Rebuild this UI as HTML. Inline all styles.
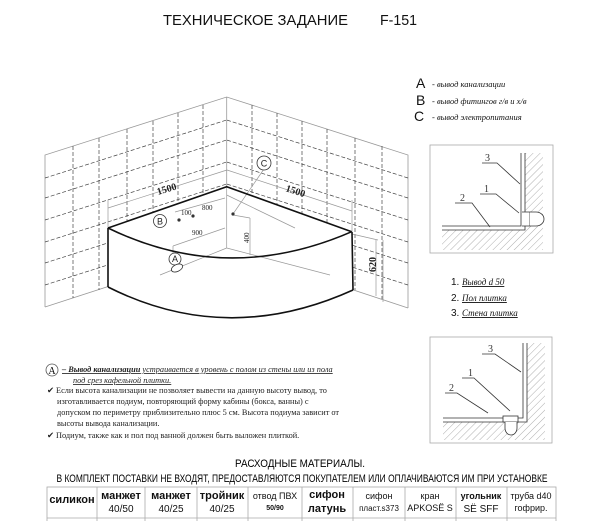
<!DOCTYPE html>
<html><head><meta charset="utf-8"><style>
html,body{margin:0;padding:0;background:#fff;}
svg{display:block;}
</style></head><body>
<svg width="600" height="521" viewBox="0 0 600 521" xmlns="http://www.w3.org/2000/svg" font-family="Liberation Sans, sans-serif">
<!-- title -->
<text x="163" y="25" font-size="15" textLength="185" lengthAdjust="spacingAndGlyphs" fill="#111">ТЕХНИЧЕСКОЕ ЗАДАНИЕ</text>
<text x="380" y="25" font-size="15" textLength="37" lengthAdjust="spacingAndGlyphs" fill="#111">F-151</text>

<!-- walls -->
<g stroke="#999" stroke-width="0.8" fill="none">
<polyline points="45,307 45,155 226.7,97 408,155 408,308"/>
<line x1="226.7" y1="97" x2="226.7" y2="248"/>
<line x1="45" y1="307" x2="226.7" y2="248"/>
<line x1="226.7" y1="248" x2="408" y2="308"/>
</g>
<g stroke="#444" stroke-width="0.7" stroke-dasharray="4,2" fill="none">
<line x1="45" y1="178" x2="226.7" y2="120"/>
<line x1="45" y1="198" x2="226.7" y2="140"/>
<line x1="45" y1="220" x2="226.7" y2="162"/>
<line x1="45" y1="242" x2="226.7" y2="184"/>
<line x1="45" y1="263" x2="226.7" y2="205"/>
<line x1="45" y1="285" x2="226.7" y2="227"/>
<line x1="408" y1="178" x2="226.7" y2="120"/>
<line x1="408" y1="198" x2="226.7" y2="140"/>
<line x1="408" y1="220" x2="226.7" y2="162"/>
<line x1="408" y1="242" x2="226.7" y2="184"/>
<line x1="408" y1="263" x2="226.7" y2="205"/>
<line x1="408" y1="285" x2="226.7" y2="227"/>
<line x1="73" y1="146" x2="73" y2="298"/>
<line x1="99" y1="138" x2="99" y2="290"/>
<line x1="127" y1="129" x2="127" y2="280"/>
<line x1="153" y1="121" x2="153" y2="272"/>
<line x1="178" y1="113" x2="178" y2="264"/>
<line x1="203" y1="105" x2="203" y2="256"/>
<line x1="252" y1="105" x2="252" y2="256"/>
<line x1="277" y1="113" x2="277" y2="264"/>
<line x1="302" y1="121" x2="302" y2="273"/>
<line x1="327" y1="129" x2="327" y2="281"/>
<line x1="355" y1="138" x2="355" y2="290"/>
<line x1="382" y1="146" x2="382" y2="299"/>
</g>
<!-- tub -->
<path d="M108,228 L226.7,186.7 L351.7,231.7 L353,290 Q227,347 108,287 Z" fill="#fff" stroke="none"/>
<g stroke="#999" stroke-width="0.7" fill="none">
<line x1="108" y1="208" x2="227" y2="170"/>
<line x1="108" y1="200" x2="108" y2="228"/>
<line x1="227" y1="170" x2="352" y2="211"/>
<line x1="352" y1="200" x2="352" y2="232"/>
<line x1="226.7" y1="186.7" x2="226.7" y2="248"/>
<line x1="226.7" y1="195" x2="295" y2="228"/>
<line x1="175" y1="212" x2="225" y2="198"/>
<line x1="173" y1="246" x2="225" y2="228"/>
<line x1="173" y1="246" x2="173" y2="256"/>
<line x1="233" y1="215" x2="250" y2="218"/>
<line x1="250" y1="218" x2="250" y2="255"/>
<line x1="264" y1="169" x2="233" y2="214"/>
<line x1="226.7" y1="248" x2="160" y2="275"/>
<line x1="226.7" y1="248" x2="330" y2="275"/>
<line x1="352" y1="234" x2="378" y2="240"/>
<line x1="376" y1="240" x2="376" y2="296"/>
<line x1="383" y1="240" x2="383" y2="302"/>
</g>
<g stroke="#111" stroke-width="1.6" fill="none">
<polyline points="108,228 226.7,186.7 351.7,231.7"/>
<path d="M108,228 Q227,286 351.7,231.7"/>
<line x1="108" y1="228" x2="108" y2="287"/>
<line x1="352" y1="232" x2="353" y2="290"/>
<path d="M108,287 Q227,347 353,290"/>
</g>
<g fill="#333"><circle cx="179" cy="220" r="1.6"/><circle cx="193" cy="216" r="1.6"/><circle cx="233" cy="214" r="1.6"/></g>
<g font-family="Liberation Serif, serif" fill="#222">
<text x="0" y="0" font-size="10" font-weight="bold" transform="translate(158,195) rotate(-17)">1500</text>
<text x="0" y="0" font-size="10" font-weight="bold" transform="translate(285,191) rotate(18)">1500</text>
<text x="181" y="215" font-size="7">100</text>
<text x="202" y="210" font-size="7">800</text>
<text x="192" y="235" font-size="7">900</text>
<text x="0" y="0" font-size="7" transform="translate(249,243) rotate(-90)">400</text>
<text x="0" y="0" font-size="10" font-weight="bold" transform="translate(376,272) rotate(-90)">620</text>
</g>
<g stroke="#333" stroke-width="0.8" fill="#fff">
<circle cx="160" cy="221" r="6.5"/><circle cx="264" cy="163" r="7"/><circle cx="175" cy="259" r="6"/>
<ellipse cx="177" cy="268" rx="6" ry="3.5" transform="rotate(-25 177 268)"/>
</g>
<g font-size="9" fill="#222" text-anchor="middle"><text x="160" y="224.5">B</text><text x="264" y="166.5">C</text><text x="175" y="262">A</text></g>

<!-- legend -->
<g fill="#111">
<text x="416" y="88" font-size="14">A</text><text x="416" y="105" font-size="14">B</text><text x="414" y="121" font-size="14">C</text>
<g font-family="Liberation Serif, serif" font-style="italic" font-size="8.5">
<text x="432" y="87">- вывод канализации</text>
<text x="432" y="104">- вывод фитингов г/в и х/в</text>
<text x="432" y="120">- вывод электропитания</text>
</g></g>

<!-- panel 1 -->
<rect x="430" y="145" width="123" height="108" fill="none" stroke="#aaa" stroke-width="0.8"/>
<defs><pattern id="h" width="5" height="5" patternUnits="userSpaceOnUse" patternTransform="rotate(45)"><line x1="0" y1="0" x2="0" y2="5" stroke="#777" stroke-width="0.6"/></pattern></defs>
<path d="M525,153 L543,153 L543,250 L442,250 L442,230 L525,230 Z" fill="url(#h)"/>
<g stroke="#333" fill="none" stroke-width="0.8">
<path d="M521,153 L521,226 L442,226 M525,153 L525,230 L442,230"/>
<path d="M522,212 h8 v14 h-8" fill="#fff"/>
<path d="M530,212 h6 a8,7 0 0 1 0,14 h-6" fill="#fff"/>
<polyline points="482,163 497,163 520,184"/>
<polyline points="480,194 496,194 519,213"/>
<polyline points="455,203 472,203 490,227"/>
</g>
<g font-family="Liberation Serif, serif" font-size="10" fill="#333"><text x="485" y="161">3</text><text x="484" y="192">1</text><text x="460" y="201">2</text></g>
<g font-size="10" fill="#111">
<text x="451" y="285">1.</text><text x="451" y="301">2.</text><text x="451" y="316">3.</text>
<g font-family="Liberation Serif, serif" font-style="italic" font-size="9" text-decoration="underline">
<text x="462" y="285">Вывод d 50</text><text x="462" y="301">Пол плитка</text><text x="462" y="316">Стена плитка</text></g></g>

<!-- panel 2 -->
<rect x="430" y="337" width="122" height="106" fill="none" stroke="#aaa" stroke-width="0.8"/>
<path d="M527,343 L545,343 L545,440 L443,440 L443,422 L527,422 Z" fill="url(#h)"/>
<g stroke="#333" fill="none" stroke-width="0.8">
<path d="M523,343 L523,418 L443,418 M527,343 L527,422 L443,422"/>
<rect x="503" y="416" width="15" height="6" fill="#fff"/>
<path d="M505,422 v6 a6,7 0 0 0 12,0 v-6" fill="#fff"/>
<polyline points="482,354 495,354 521,372"/>
<polyline points="462,378 474,378 510,411"/>
<polyline points="445,393 457,393 488,413"/>
</g>
<g font-family="Liberation Serif, serif" font-size="10" fill="#333"><text x="488" y="352">3</text><text x="468" y="376">1</text><text x="449" y="391">2</text></g>

<!-- text block -->
<circle cx="52" cy="370" r="6" fill="none" stroke="#555" stroke-width="0.8"/>
<text x="52" y="374" font-size="10" text-anchor="middle" font-family="Liberation Serif, serif">A</text>
<g font-family="Liberation Serif, serif" font-size="8.3" fill="#222">
<text x="62" y="372"><tspan font-weight="bold" font-style="italic" text-decoration="underline">– Вывод канализации</tspan><tspan font-style="italic" text-decoration="underline"> устраивается в уровень с полом из стены или из пола</tspan></text>
<text x="73" y="383" font-style="italic" text-decoration="underline">под срез кафельной плитки.</text>
<text x="47" y="393">✔ Если высота канализации не позволяет вывести на данную высоту вывод, то</text>
<text x="57" y="404">изготавливается подиум, повторяющий форму кабины (бокса, ванны) с</text>
<text x="57" y="415">допуском по периметру приблизительно плюс 5 см. Высота подиума зависит от</text>
<text x="57" y="426">высоты вывода канализации.</text>
<text x="47" y="438">✔ Подиум, также как и пол под ванной должен быть выложен плиткой.</text>
</g>

<!-- materials -->
<text x="300" y="467" font-size="11" text-anchor="middle" textLength="130" lengthAdjust="spacingAndGlyphs">РАСХОДНЫЕ МАТЕРИАЛЫ.</text>
<text x="302" y="482" font-size="11" text-anchor="middle" textLength="491" lengthAdjust="spacingAndGlyphs">В КОМПЛЕКТ ПОСТАВКИ НЕ ВХОДЯТ, ПРЕДОСТАВЛЯЮТСЯ ПОКУПАТЕЛЕМ ИЛИ ОПЛАЧИВАЮТСЯ ИМ ПРИ УСТАНОВКЕ</text>
<g stroke="#aaa" stroke-width="0.8" fill="none">
<rect x="47" y="487" width="509" height="40"/>
<line x1="47" y1="518" x2="556" y2="518"/>
<line x1="97" y1="487" x2="97" y2="527"/><line x1="145" y1="487" x2="145" y2="527"/>
<line x1="197" y1="487" x2="197" y2="527"/><line x1="248" y1="487" x2="248" y2="527"/>
<line x1="302" y1="487" x2="302" y2="527"/><line x1="353" y1="487" x2="353" y2="527"/>
<line x1="405" y1="487" x2="405" y2="527"/><line x1="456" y1="487" x2="456" y2="527"/>
<line x1="507" y1="487" x2="507" y2="527"/>
</g>
<g text-anchor="middle" fill="#111">
<text x="72" y="503" font-size="11" font-weight="bold">силикон</text>
<text x="121" y="499" font-size="11" font-weight="bold">манжет</text><text x="121" y="512" font-size="10">40/50</text>
<text x="171" y="499" font-size="11" font-weight="bold">манжет</text><text x="171" y="512" font-size="10">40/25</text>
<text x="222" y="499" font-size="11" font-weight="bold">тройник</text><text x="222" y="512" font-size="10">40/25</text>
<text x="275" y="499" font-size="9">отвод ПВХ</text><text x="275" y="510" font-size="7" font-weight="bold">50/90</text>
<text x="327" y="498" font-size="11" font-weight="bold">сифон</text><text x="327" y="512" font-size="11" font-weight="bold">латунь</text>
<text x="379" y="499" font-size="9">сифон</text><text x="379" y="511" font-size="8">пласт.s373</text>
<text x="430" y="499" font-size="9">кран</text><text x="430" y="511" font-size="9">APKOSË S</text>
<text x="481" y="499" font-size="9" font-weight="bold">угольник</text><text x="481" y="512" font-size="10">SË SFF</text>
<text x="531" y="499" font-size="9">труба d40</text><text x="531" y="511" font-size="9">гофрир.</text>
</g>
</svg>
</body></html>
